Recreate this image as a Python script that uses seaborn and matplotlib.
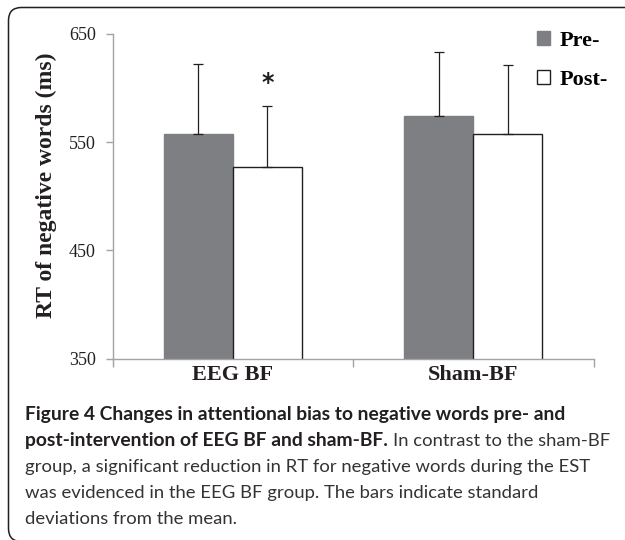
import matplotlib
matplotlib.use('Agg')
import matplotlib.pyplot as plt
import pandas as pd
import seaborn as sns
from matplotlib.patches import FancyBboxPatch, Patch

# Data
groups = ['EEG BF', 'Sham-BF']
phases = ['Pre-', 'Post-']
pre_rt = [558, 574]
post_rt = [527, 558]
pre_sd = [64, 59]
post_sd = [56, 63]
y_ticks = [350, 450, 550, 650]

caption = [
    ('Figure 4 Changes in attentional bias to negative words pre- and', ''),
    ('post-intervention of EEG BF and sham-BF.', 'In contrast to the sham-BF'),
    ('', 'group, a significant reduction in RT for negative words during the EST'),
    ('', 'was evidenced in the EEG BF group. The bars indicate standard'),
    ('', 'deviations from the mean.'),
]

df = pd.DataFrame({
    'group': groups * 2,
    'phase': [phases[0]] * 2 + [phases[1]] * 2,
    'rt': pre_rt + post_rt,
    'sd': pre_sd + post_sd,
})

W, H = 625, 540
serif = 'Liberation Serif'
ink = '#231f20'
axis_grey = '#a3a3a3'
pre_col = '#7e7f83'

fig = plt.figure(figsize=(W / 100, H / 100), dpi=100)
ax = fig.add_axes([112.5 / W, 1 - 358.6 / H, 481 / W, 324.6 / H])

sns.barplot(data=df, x='group', y='rt', hue='phase', order=groups, hue_order=phases,
            palette={'Pre-': pre_col, 'Post-': 'white'}, saturation=1,
            errorbar=None, width=0.574, gap=0, ax=ax, legend=False)

# edges: grey bars without outline, white bars outlined in black
edge_cols = [pre_col, ink]
for cont, ec in zip(ax.containers, edge_cols):
    for p in cont:
        p.set_edgecolor(ec)
        p.set_linewidth(1.0)

# upward-only SD error bars at bar centres
for cont, ph in zip(ax.containers, phases):
    sub = df[df['phase'] == ph]
    xs = [p.get_x() + p.get_width() / 2 for p in cont]
    ax.errorbar(xs, sub['rt'], yerr=[[0] * len(sub), sub['sd']], fmt='none',
                ecolor=ink, elinewidth=0.9, capsize=3.5, capthick=0.9, zorder=3)

# significance star above EEG BF post bar
star_bar = ax.containers[1][0]
ax.text(star_bar.get_x() + star_bar.get_width() / 2, 605, '*', ha='center', va='center',
        fontsize=17, fontweight='bold', family='DejaVu Sans', color=ink)

ax.set_ylim(350, 650)
ax.set_xlim(-0.5, 1.5)
ax.set_yticks(y_ticks)
ax.set_yticklabels([str(v) for v in y_ticks], family=serif, fontsize=13, color=ink)
ax.set_xticks([0, 1])
ax.set_xticklabels(groups, family=serif, fontsize=16, fontweight='bold', color=ink)
ax.set_xticks([-0.5, 0.5, 1.5], minor=True)
ax.tick_params(axis='x', which='major', length=0, pad=4.5)
ax.tick_params(axis='x', which='minor', length=6, width=1, color=axis_grey, direction='out')
ax.tick_params(axis='y', length=5, width=1, color=axis_grey, direction='out', pad=7)
ax.set_xlabel('')
ax.set_ylabel('RT of negative words (ms)', family=serif, fontsize=17, fontweight='bold', color=ink)
ax.yaxis.set_label_coords(-0.115, 0.535)

for s in ['top', 'right']:
    ax.spines[s].set_visible(False)
for s in ['left', 'bottom']:
    ax.spines[s].set_color(axis_grey)
    ax.spines[s].set_linewidth(1.0)
ax.set_facecolor('white')

handles = [Patch(facecolor=c, edgecolor=e, linewidth=1.0)
           for c, e in zip([pre_col, 'white'], edge_cols)]
ax.legend(handles, phases, loc='upper left', bbox_to_anchor=(537 / W, 1 - 31 / H),
          bbox_transform=fig.transFigure, frameon=False, borderpad=0, borderaxespad=0,
          handlelength=0.6, handleheight=0.6, handletextpad=0.4, labelspacing=0.85,
          prop={'family': serif, 'weight': 'bold', 'size': 16})

# rounded frame around figure and caption
frame = FancyBboxPatch((8.5 / 100, -1.5 / 100), 7.0, (H - 7.5 + 1.5) / 100,
                       boxstyle='round,pad=0,rounding_size=0.13',
                       transform=fig.dpi_scale_trans, fill=False,
                       edgecolor=ink, linewidth=1.1, clip_on=False)
fig.add_artist(frame)

# caption, font sizes chosen so measured line widths match the reference
renderer = fig.canvas.get_renderer()
sans = 'Lato'


def fit_size(text, weight, target):
    probe = fig.text(0, 0, text, family=sans, fontweight=weight, fontsize=12)
    w = probe.get_window_extent(renderer).width
    probe.remove()
    return 12 * target / w


reg_size = fit_size(caption[2][1], 'normal', 562)
bold_size = min(fit_size(caption[0][0], 'bold', 568), fit_size(caption[1][0], 'bold', 363))

x0 = 25
for i, (bold, regular) in enumerate(caption):
    y = 1 - (420 + 26 * i) / H
    x = x0
    if bold:
        t = fig.text(x / W, y, bold, family=sans, fontweight='bold', fontsize=bold_size,
                     color=ink, va='baseline')
        x = t.get_window_extent(renderer).x1 + reg_size * 0.4
    if regular:
        fig.text(x / W, y, regular, family=sans, fontsize=reg_size, color='#333333',
                 va='baseline')

fig.savefig('out.png', dpi=100, facecolor='white')
